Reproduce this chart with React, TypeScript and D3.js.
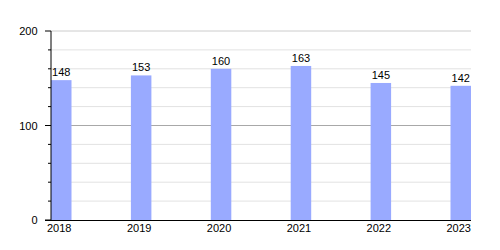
import React from "react";
import * as d3 from "d3";

const categories = ["2018", "2019", "2020", "2021", "2022", "2023"];
const values = [148, 153, 160, 163, 145, 142];
const majorTicks = [0, 100, 200];
const minorTicks = [20, 40, 60, 80, 120, 140, 160, 180];

export default function App() {
  const W = 500, H = 250;
  const left = 51, right = 471, top = 31, bottom = 220;
  const barW = 20.5;
  const x = d3.scalePoint<string>().domain(categories).range([left, right - barW]);
  const y = d3.scaleLinear().domain([0, 200]).range([bottom, top]);
  const font = "'Liberation Sans', Arial, sans-serif";
  return (
    <svg width={W} height={H} style={{ position: "absolute", left: 0, top: 0 }} fontFamily={font}>
      <rect width={W} height={H} fill="#fff" />
      {minorTicks.map((t) => (
        <line key={"g" + t} x1={left} x2={right} y1={y(t)} y2={y(t)} stroke="#e2e2e2" strokeWidth={1} />
      ))}
      <line x1={left} x2={right} y1={y(200)} y2={y(200)} stroke="#cccccc" strokeWidth={1} />
      <line x1={left} x2={right} y1={y(100)} y2={y(100)} stroke="#a8a8a8" strokeWidth={1} />
      {categories.map((c, i) => (
        <rect key={c} x={x(c)!} y={y(values[i])} width={barW} height={bottom - y(values[i])} fill="#99aaff" />
      ))}
      {categories.map((c, i) => (
        <text key={"v" + c} x={x(c)! + barW / 2} y={y(values[i]) - 4} textAnchor="middle" fontSize={11} fill="#000">
          {values[i]}
        </text>
      ))}
      <line x1={left} x2={left} y1={top} y2={bottom} stroke="#000" strokeWidth={1} />
      <line x1={left - 6} x2={right} y1={bottom + 0.5} y2={bottom + 0.5} stroke="#000" strokeWidth={1.2} />
      {minorTicks.map((t) => (
        <line key={"mt" + t} x1={left - 3} x2={left} y1={y(t)} y2={y(t)} stroke="#000" strokeWidth={1} />
      ))}
      {majorTicks.map((t) => (
        <line key={"Mt" + t} x1={left - 6} x2={left} y1={y(t)} y2={y(t)} stroke="#000" strokeWidth={1} />
      ))}
      {majorTicks.map((t) => (
        <text key={"yl" + t} x={37.5} y={y(t) + 4} textAnchor="end" fontSize={11} fill="#000">
          {t}
        </text>
      ))}
      {categories.map((c) => (
        <text key={"xl" + c} x={x(c)! + barW / 2 - 2} y={bottom + 12} textAnchor="middle" fontSize={11} fill="#000">
          {c}
        </text>
      ))}
    </svg>
  );
}
